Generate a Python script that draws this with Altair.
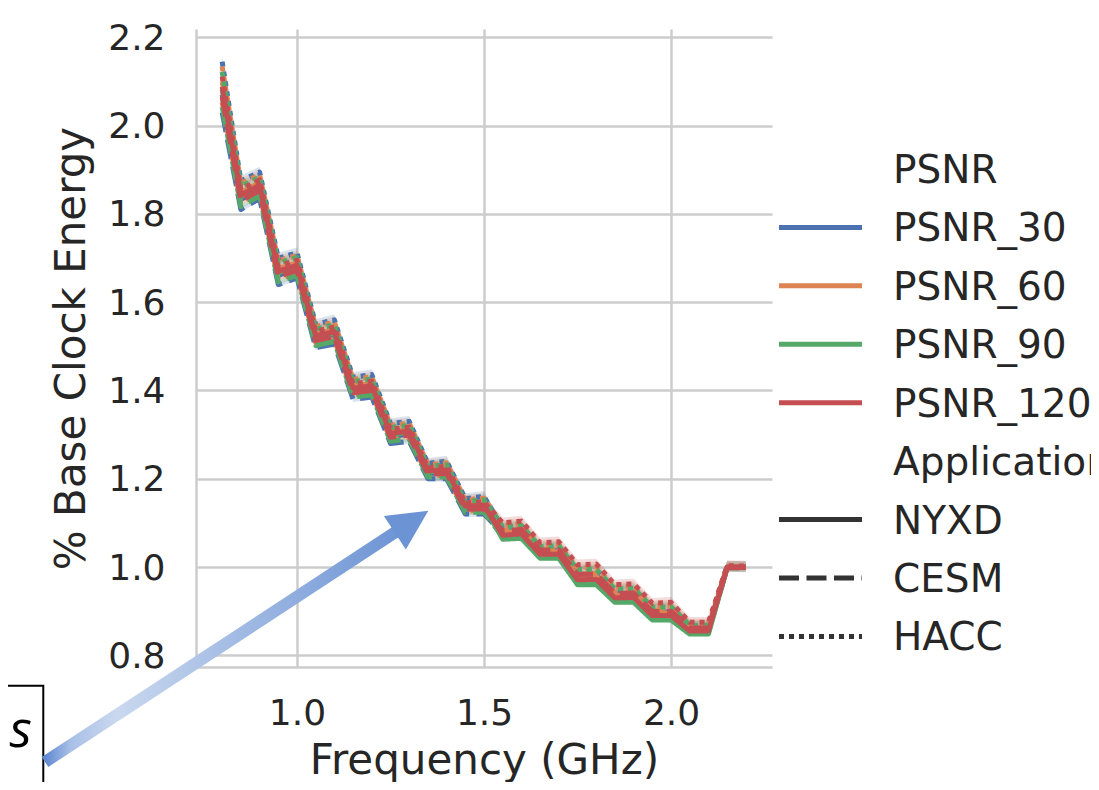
import altair as alt
import pandas as pd

# ---------------- data ----------------
FREQ = [0.80, 0.85, 0.90, 0.95, 1.00, 1.05, 1.10, 1.15, 1.20, 1.25, 1.30, 1.35, 1.40, 1.45, 1.50,
        1.55, 1.60, 1.65, 1.70, 1.75, 1.80, 1.85, 1.90, 1.95, 2.00, 2.05, 2.10, 2.15, 2.20]

PSNR_LEVELS = ["PSNR_30", "PSNR_60", "PSNR_90", "PSNR_120"]
APPS = ["NYXD", "CESM", "HACC"]

NYXD_30 = [2.070, 1.833, 1.856, 1.661, 1.675, 1.516, 1.524, 1.398, 1.403, 1.296, 1.301, 1.212, 1.214, 1.132, 1.134,
           1.080, 1.083, 1.036, 1.037, 0.980, 0.981, 0.938, 0.939, 0.897, 0.898, 0.860, 0.860, 0.999, 1.000]
NYXD_60 = [2.099, 1.849, 1.871, 1.676, 1.689, 1.529, 1.538, 1.410, 1.416, 1.307, 1.312, 1.221, 1.224, 1.141, 1.144,
           1.078, 1.081, 1.034, 1.035, 0.978, 0.979, 0.936, 0.937, 0.895, 0.896, 0.859, 0.859, 0.999, 1.000]
NYXD_90 = [2.082, 1.839, 1.862, 1.667, 1.681, 1.521, 1.530, 1.403, 1.408, 1.300, 1.305, 1.216, 1.218, 1.136, 1.138,
           1.063, 1.065, 1.020, 1.020, 0.960, 0.960, 0.920, 0.920, 0.880, 0.880, 0.848, 0.848, 0.998, 0.999]
NYXD_120 = [2.088, 1.843, 1.865, 1.670, 1.684, 1.524, 1.533, 1.405, 1.411, 1.303, 1.308, 1.218, 1.220, 1.138, 1.140,
            1.072, 1.075, 1.029, 1.029, 0.971, 0.972, 0.930, 0.931, 0.890, 0.890, 0.855, 0.855, 0.998, 0.999]

CESM_30 = [2.030, 1.810, 1.835, 1.640, 1.655, 1.497, 1.505, 1.380, 1.385, 1.280, 1.285, 1.200, 1.200, 1.120, 1.120,
           1.076, 1.079, 1.032, 1.033, 0.976, 0.976, 0.934, 0.935, 0.893, 0.894, 0.857, 0.857, 0.999, 1.000]
CESM_60 = [2.053, 1.823, 1.847, 1.652, 1.666, 1.508, 1.516, 1.390, 1.395, 1.289, 1.294, 1.207, 1.208, 1.127, 1.128,
           1.083, 1.086, 1.039, 1.040, 0.985, 0.986, 0.942, 0.943, 0.901, 0.902, 0.863, 0.863, 1.000, 1.000]
CESM_90 = [2.042, 1.817, 1.841, 1.646, 1.661, 1.502, 1.511, 1.385, 1.390, 1.285, 1.290, 1.204, 1.204, 1.124, 1.124,
           1.069, 1.071, 1.025, 1.026, 0.967, 0.967, 0.926, 0.926, 0.886, 0.886, 0.852, 0.852, 0.999, 0.999]
CESM_120 = [2.065, 1.830, 1.853, 1.658, 1.672, 1.513, 1.522, 1.395, 1.400, 1.294, 1.299, 1.211, 1.212, 1.131, 1.132,
            1.082, 1.085, 1.038, 1.039, 0.983, 0.984, 0.940, 0.941, 0.899, 0.900, 0.862, 0.862, 1.000, 1.000]

HACC_30 = [2.145, 1.875, 1.895, 1.700, 1.712, 1.550, 1.560, 1.430, 1.436, 1.325, 1.330, 1.235, 1.240, 1.155, 1.160,
           1.087, 1.090, 1.043, 1.044, 0.989, 0.991, 0.946, 0.947, 0.905, 0.906, 0.866, 0.866, 1.001, 1.001]
HACC_60 = [2.134, 1.869, 1.889, 1.694, 1.706, 1.545, 1.555, 1.425, 1.431, 1.321, 1.326, 1.232, 1.236, 1.152, 1.156,
           1.094, 1.098, 1.050, 1.051, 0.998, 1.000, 0.954, 0.956, 0.912, 0.914, 0.871, 0.871, 1.002, 1.001]
HACC_90 = [2.122, 1.862, 1.883, 1.688, 1.701, 1.539, 1.549, 1.420, 1.426, 1.316, 1.321, 1.228, 1.232, 1.148, 1.152,
           1.091, 1.094, 1.046, 1.048, 0.994, 0.995, 0.950, 0.952, 0.909, 0.910, 0.868, 0.868, 1.001, 1.000]
HACC_120 = [2.111, 1.856, 1.877, 1.682, 1.695, 1.534, 1.544, 1.415, 1.421, 1.312, 1.317, 1.225, 1.228, 1.145, 1.148,
            1.100, 1.104, 1.055, 1.057, 1.005, 1.007, 0.960, 0.962, 0.918, 0.920, 0.875, 0.875, 1.003, 1.002]

# half width of the confidence band of each application
CI_HALF = {"NYXD": 0.005, "CESM": 0.006, "HACC": 0.012}

SERIES = {
    ("PSNR_30", "NYXD"): NYXD_30, ("PSNR_30", "CESM"): CESM_30, ("PSNR_30", "HACC"): HACC_30,
    ("PSNR_60", "NYXD"): NYXD_60, ("PSNR_60", "CESM"): CESM_60, ("PSNR_60", "HACC"): HACC_60,
    ("PSNR_90", "NYXD"): NYXD_90, ("PSNR_90", "CESM"): CESM_90, ("PSNR_90", "HACC"): HACC_90,
    ("PSNR_120", "NYXD"): NYXD_120, ("PSNR_120", "CESM"): CESM_120, ("PSNR_120", "HACC"): HACC_120,
}

X_TICKS = [1.0, 1.5, 2.0]
Y_TICKS = [0.8, 1.0, 1.2, 1.4, 1.6, 1.8, 2.0, 2.2]

# annotation (box with clipped word and gradient arrow), in data units
BOX_X = [0.126, 0.3217]
BOX_Y = [0.404, 0.7311]
BOX_TEXT = "s"
TEXT_X = [0.2915]
TEXT_Y = [0.5923]
ARROW_X = [0.3263, 1.2840]
ARROW_Y = [0.5583, 1.0905]
HEAD_X = [1.3064]
HEAD_Y = [1.1027]

# legend rows (seaborn style: header rows without a handle)
LEGEND_LABELS = ["PSNR", "PSNR_30", "PSNR_60", "PSNR_90", "PSNR_120",
                 "Application", "NYXD", "CESM", "HACC"]

# ---------------- styles ----------------
PALETTE = ["#4C72B0", "#DD8452", "#55A868", "#C44E52"]
DASHES = [[1, 0], [20, 7.5], [5, 5]]
FONT = "DejaVu Sans"
TEXT_COLOR = "#262626"
LW = 5

rows = []
for p in PSNR_LEVELS:
    for a in APPS:
        vals = SERIES[(p, a)]
        for f, v in zip(FREQ, vals):
            rows.append({"freq": f, "energy": v, "lo": v - CI_HALF[a], "hi": v + CI_HALF[a],
                         "PSNR": p, "Application": a, "series": p + "|" + a})
df = pd.DataFrame(rows)

xs = alt.Scale(domain=[0.73, 2.27], nice=False, zero=False)
ys = alt.Scale(domain=[0.7735, 2.219], nice=False, zero=False)

x_axis = alt.Axis(values=X_TICKS, format=".1f", title="Frequency (GHz)",
                  labelPadding=29, titlePadding=9, labelFlush=False, labelOverlap=False)
y_axis = alt.Axis(values=Y_TICKS, format=".1f", title="% Base Clock Energy",
                  labelPadding=31, titlePadding=14, labelOffset=1, labelFlush=False, labelOverlap=False)

color = alt.Color("PSNR:N", scale=alt.Scale(domain=PSNR_LEVELS, range=PALETTE), legend=None)
dash = alt.StrokeDash("Application:N", scale=alt.Scale(domain=APPS, range=DASHES), legend=None)

base = alt.Chart(df)
band = base.mark_area(opacity=0.2).encode(
    x=alt.X("freq:Q", scale=xs, axis=x_axis),
    y=alt.Y("lo:Q", scale=ys, axis=y_axis),
    y2="hi:Q",
    color=color,
    detail="series:N",
)
lines = base.mark_line(strokeWidth=LW, strokeJoin="round", strokeCap="butt").encode(
    x=alt.X("freq:Q", scale=xs, axis=x_axis),
    y=alt.Y("energy:Q", scale=ys, axis=y_axis),
    color=color,
    strokeDash=dash,
    detail="series:N",
)

box = alt.Chart(pd.DataFrame({"x": [BOX_X[0]], "x2": [BOX_X[1]], "y": [BOX_Y[0]], "y2": [BOX_Y[1]]})).mark_rect(
    fill="white", stroke="black", strokeWidth=2
).encode(
    x=alt.X("x:Q", scale=xs, axis=x_axis), x2="x2:Q",
    y=alt.Y("y:Q", scale=ys, axis=y_axis), y2="y2:Q",
)

box_text = alt.Chart(pd.DataFrame({"x": TEXT_X, "y": TEXT_Y, "t": [BOX_TEXT]})).mark_text(
    font="Open Sans", fontStyle="italic", fontSize=52, align="right", baseline="alphabetic", color="black"
).encode(
    x=alt.X("x:Q", scale=xs, axis=x_axis),
    y=alt.Y("y:Q", scale=ys, axis=y_axis),
    text="t:N",
)

grad = alt.LinearGradient(
    gradient="linear",
    stops=[
        alt.GradientStop(offset=0.0, color="#5f88d1"),
        alt.GradientStop(offset=0.07, color="#a8bfe6"),
        alt.GradientStop(offset=0.2, color="#cad8ef"),
        alt.GradientStop(offset=1.0, color="#6c93d4"),
    ],
    x1=0, x2=1, y1=0, y2=0,
)
arrow = alt.Chart(pd.DataFrame({"x": ARROW_X, "y": ARROW_Y})).mark_line(
    stroke=grad, strokeWidth=12, strokeCap="butt"
).encode(
    x=alt.X("x:Q", scale=xs, axis=x_axis),
    y=alt.Y("y:Q", scale=ys, axis=y_axis),
)
head = alt.Chart(pd.DataFrame({"x": HEAD_X, "y": HEAD_Y})).mark_point(
    shape="M0,-1L1,1L-1,1Z", filled=True, size=1600, angle=56.75, color="#6c93d4", opacity=1, strokeWidth=0
).encode(
    x=alt.X("x:Q", scale=xs, axis=x_axis),
    y=alt.Y("y:Q", scale=ys, axis=y_axis),
)

main = alt.layer(band, lines, box, arrow, head, box_text)

# ---------------- legend ----------------
row_scale = alt.Scale(domain=[0, 8], range=[140, 607.4])
leg_psnr = alt.Chart(pd.DataFrame({"PSNR": PSNR_LEVELS, "row": [1, 2, 3, 4]})).mark_rule(
    strokeWidth=LW, strokeCap="butt"
).encode(
    x=alt.value(583), x2=alt.value(666),
    y=alt.Y("row:Q", scale=row_scale, axis=None),
    color=color,
)
leg_app = alt.Chart(pd.DataFrame({"Application": APPS, "row": [6, 7, 8]})).mark_rule(
    strokeWidth=LW, strokeCap="butt", color="#333333"
).encode(
    x=alt.value(583), x2=alt.value(666),
    y=alt.Y("row:Q", scale=row_scale, axis=None),
    strokeDash=dash,
)
leg_text = alt.Chart(pd.DataFrame({"label": LEGEND_LABELS, "row": list(range(len(LEGEND_LABELS)))})).mark_text(
    align="left", baseline="middle", fontSize=39, font=FONT, color=TEXT_COLOR, dy=2
).encode(
    x=alt.value(697),
    y=alt.Y("row:Q", scale=row_scale, axis=None),
    text="label:N",
)
legend = alt.layer(leg_psnr, leg_app, leg_text)

chart = alt.layer(main, legend).resolve_scale(y="independent").properties(
    width=576, height=638,
    autosize=alt.AutoSizeParams(type="none"),
    padding={"left": 188, "top": 21, "right": 319, "bottom": 115},
).configure_view(stroke=None).configure_axis(
    labelFont=FONT, titleFont=FONT, labelColor=TEXT_COLOR, titleColor=TEXT_COLOR,
    labelFontSize=36, titleFontSize=42, titleFontWeight="normal",
    gridColor="#cccccc", gridWidth=2.5, domainColor="#cccccc", domainWidth=2.5,
    ticks=False, tickSize=0,
)

chart.save("out.html", embed_options={"renderer": "svg", "actions": False})
